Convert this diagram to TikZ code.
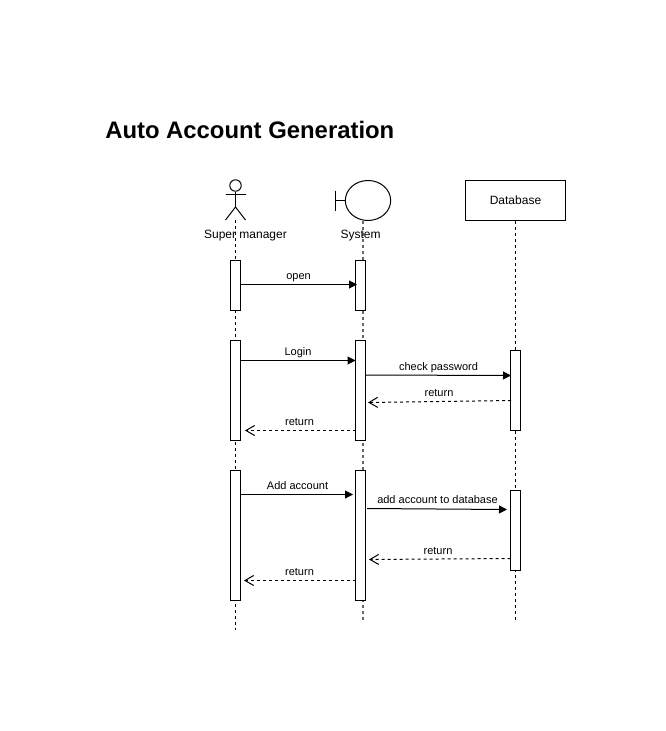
\documentclass[tikz,border=0pt]{standalone}
\usepackage{fontspec}
\setmainfont{Liberation Sans}
\usetikzlibrary{arrows.meta,positioning,shapes.geometric}
\tikzset{
  px/.style={x=0.75pt,y=-0.75pt},
  ln/.style={draw=black,line width=0.75pt},
  life/.style={line width=0.75pt,dash pattern=on 2.25pt off 2.25pt},
  lifegray/.style={life,draw=black!60,line width=1pt},
  act/.style={draw=black,fill=white,line width=0.75pt,minimum width=7.5pt,inner sep=0pt,outer sep=0pt,anchor=north},
  msg/.style={ln,-{Triangle[length=6pt,width=6pt]}},
  ret/.style={ln,dash pattern=on 2.25pt off 2.25pt,-{Straight Barb[length=6.5pt,width=7.5pt]}},
  lbl/.style={font=\fontsize{8.25}{10}\selectfont,inner sep=0pt,anchor=center},
  lane/.style={font=\fontsize{9}{11}\selectfont,inner sep=0pt,anchor=center},
}
\begin{document}
\begin{tikzpicture}[px]
\useasboundingbox (0,0) rectangle (666,731);
\node[font=\bfseries\fontsize{17.9}{22}\selectfont,inner sep=0pt,anchor=base west] (title) at (105,138) {Auto Account Generation};
% actor
\node[circle,draw,line width=0.75pt,minimum size=8.6pt,inner sep=0pt] (head) at (235.5,185.5) {};
\coordinate (hip) at (235.5,207);
\draw[ln] (head.south) -- (hip);
\coordinate (armL) at (225.5,194);
\coordinate (armR) at (245.5,194);
\draw[ln] (armL) -- (armR);
\coordinate (legL) at (225.5,220);
\coordinate (legR) at (245.5,220);
\draw[ln] (legL) -- (hip) -- (legR);
% boundary
\node[ellipse,draw,line width=0.75pt,minimum width=34pt,minimum height=30pt,inner sep=0pt] (sys) at (368,200.5) {};
\coordinate (barT) at (335.5,190.5);
\coordinate (barB) at (335.5,210.5);
\coordinate (barM) at (335.5,200.5);
\draw[ln] (barT) -- (barB);
\draw[ln] (barM) -- (sys.west);
% database
\node[draw,line width=0.75pt,minimum width=75pt,minimum height=30pt,inner sep=0pt,font=\fontsize{9}{11}\selectfont] (db) at (515.5,200.5) {Database};
% lifelines
\coordinate (smTop) at (235.5,220);
\coordinate (smEnd) at (235.5,630);
\coordinate (syTop) at (363,220.5);
\coordinate (syEnd) at (363,620);
\coordinate (dbEnd) at (515.5,620);
\draw[life] (smTop) -- (smEnd);
\draw[lifegray] (syTop) -- (syEnd);
\draw[life] (db.south) -- (dbEnd);
\node[lane] (smLabel) at (245.5,236) {Super manager};
\node[lane] (syLabel) at (360.5,236) {System};
% activations
\node[act,minimum height=37.5pt] (a1) at (235.5,260.5) {};
\node[act,minimum height=75pt] (a2) at (235.5,340.5) {};
\node[act,minimum height=97.5pt] (a3) at (235.5,470.5) {};
\node[act,minimum height=37.5pt] (b1) at (360.5,260.5) {};
\node[act,minimum height=75pt] (b2) at (360.5,340.5) {};
\node[act,minimum height=97.5pt] (b3) at (360.5,470.5) {};
\node[act,minimum height=60pt] (c1) at (515.5,350.5) {};
\node[act,minimum height=60pt] (c2) at (515.5,490.5) {};
% message ends
\coordinate (m1s) at (240,284.5);   \coordinate (m1e) at (357,284.5);
\coordinate (m2s) at (241,360.5);   \coordinate (m2e) at (355.5,360.5);
\coordinate (m3s) at (365,375);     \coordinate (m3e) at (511,375.5);
\coordinate (m4s) at (511,400.5);   \coordinate (m4e) at (368,402.5);
\coordinate (m5s) at (355.5,430.5); \coordinate (m5e) at (245,430.5);
\coordinate (m6s) at (240.5,494.5); \coordinate (m6e) at (353,494.5);
\coordinate (m7s) at (367,508.5);   \coordinate (m7e) at (507,509.5);
\coordinate (m8s) at (510.5,558.5); \coordinate (m8e) at (369,559.5);
\coordinate (m9s) at (355.5,580.5); \coordinate (m9e) at (244,580.5);
\draw[msg] (m1s) -- (m1e);
\draw[msg] (m2s) -- (m2e);
\draw[msg] (m3s) -- (m3e);
\draw[ret] (m4s) -- (m4e);
\draw[ret] (m5s) -- (m5e);
\draw[msg] (m6s) -- (m6e);
\draw[msg] (m7s) -- (m7e);
\draw[ret] (m8s) -- (m8e);
\draw[ret] (m9s) -- (m9e);
% labels
\node[lbl] (l1) at (298.5,278) {open};
\node[lbl] (l2) at (298,352.5) {Login};
\node[lbl] (l3) at (438.5,367.5) {check password};
\node[lbl] (l4) at (439,393) {return};
\node[lbl] (l5) at (299.5,422) {return};
\node[lbl] (l6) at (297.5,486) {Add account};
\node[lbl] (l7) at (437.5,500) {add account to database};
\node[lbl] (l8) at (438,551) {return};
\node[lbl] (l9) at (299.5,572) {return};
\end{tikzpicture}
\end{document}
